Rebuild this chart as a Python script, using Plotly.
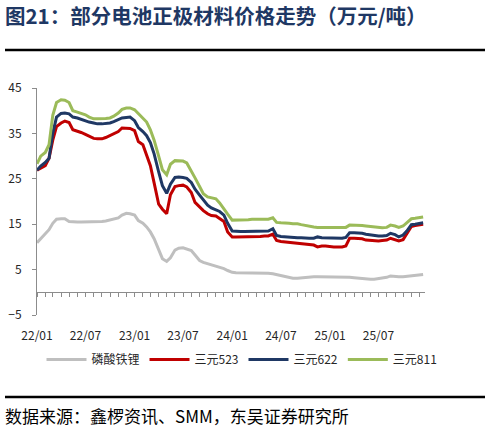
import pandas as pd
import plotly.graph_objects as go

# semi-monthly dates, 2022-01 .. 2025-12
dates = pd.date_range("2022-01-01", "2025-12-15", freq="SMS")

lfp = [
    10.9, 11.8, 13.0, 13.8, 15.2, 16.1, 16.2, 16.2, 15.6, 15.5, 15.5, 15.5,
    15.5, 15.5, 15.5, 15.6, 15.6, 15.7, 15.9, 16.1, 16.4, 17.0, 17.4, 17.3,
    17.0, 15.8, 15.2, 14.4, 13.3, 11.8, 9.3, 7.4, 6.8, 7.6, 9.3, 9.7,
    9.8, 9.6, 9.2, 8.2, 7.0, 6.6, 6.3, 6.0, 5.8, 5.5, 5.2, 4.8,
    4.4, 4.3, 4.3, 4.3, 4.3, 4.3, 4.3, 4.3, 4.2, 4.2, 4.1, 3.9,
    3.7, 3.5, 3.3, 3.1, 3.1, 3.2, 3.3, 3.3, 3.4, 3.4, 3.4, 3.4,
    3.4, 3.4, 3.4, 3.4, 3.3, 3.3, 3.2, 3.1, 3.0, 3.0, 2.9, 2.9,
    3.0, 3.1, 3.3, 3.6, 3.4, 3.4, 3.4, 3.5, 3.6, 3.8, 3.8, 3.9,
]
ncm523 = [
    26.9, 27.3, 27.9, 29.5, 33.5, 36.5, 37.3, 37.7, 37.4, 35.8, 35.5, 35.2,
    34.8, 34.4, 33.9, 33.8, 33.8, 34.1, 34.6, 35.0, 35.4, 36.2, 36.2, 36.1,
    35.6, 33.2, 32.5, 30.0, 27.9, 24.1, 19.4, 18.3, 17.3, 21.5, 23.3, 23.5,
    23.6, 23.2, 22.0, 19.8, 18.8, 18.0, 17.3, 16.9, 16.8, 16.3, 15.6, 13.3,
    12.2, 12.2, 12.2, 12.2, 12.2, 12.3, 12.3, 12.3, 12.4, 12.4, 12.8, 11.4,
    11.2, 11.1, 11.0, 10.9, 10.8, 10.7, 10.6, 10.5, 10.4, 10.0, 10.2, 10.2,
    10.0, 10.0, 10.0, 10.0, 10.2, 11.9, 11.9, 11.9, 11.8, 11.5, 11.4, 11.3,
    11.3, 11.4, 11.5, 11.9, 11.6, 11.3, 11.6, 12.8, 14.5, 14.7, 14.8, 15.0,
]
ncm622 = [
    26.9, 27.8, 28.6, 29.5, 35.0, 38.6, 39.4, 39.5, 39.3, 38.6, 38.4, 38.1,
    37.8, 37.5, 37.3, 37.1, 37.1, 37.2, 37.3, 37.6, 38.0, 38.4, 38.5, 38.6,
    37.8, 36.3, 35.4, 34.5, 33.0, 30.5, 26.5, 23.5, 21.8, 23.8, 25.3, 25.4,
    25.3, 25.1, 24.2, 22.7, 21.4, 20.4, 19.2, 18.6, 18.2, 17.8, 17.0, 15.2,
    13.5, 13.4, 13.4, 13.4, 13.4, 13.4, 13.5, 13.5, 13.5, 13.5, 14.0, 12.5,
    12.3, 12.2, 12.1, 12.0, 12.0, 12.0, 11.9, 11.9, 11.9, 12.2, 12.0, 12.0,
    11.9, 11.9, 11.9, 11.9, 12.1, 13.1, 13.1, 13.1, 13.0, 12.8, 12.6, 12.5,
    12.4, 12.4, 12.5, 13.0, 12.7, 12.2, 12.6, 13.5, 14.9, 15.0, 15.1, 15.3,
]
ncm811 = [
    28.3, 30.0, 30.8, 32.5, 39.0, 41.8, 42.4, 42.3, 41.8, 40.0, 39.7, 39.4,
    39.1, 38.6, 38.2, 38.2, 38.2, 38.3, 38.4, 38.8, 39.5, 40.3, 40.6, 40.6,
    40.2, 39.3, 38.4, 37.5, 35.8, 33.5, 30.0, 27.0, 25.9, 28.2, 29.0, 29.0,
    28.9, 28.5, 26.8, 25.2, 23.3, 21.7, 21.0, 20.8, 20.6, 19.7, 18.3, 17.2,
    15.9, 15.9, 15.9, 16.0, 16.0, 16.1, 16.1, 16.1, 16.1, 16.1, 16.4, 15.4,
    15.3, 15.3, 15.2, 15.1, 15.1, 14.9, 14.7, 14.5, 14.4, 14.3, 14.3, 14.2,
    14.2, 14.2, 14.2, 14.2, 14.3, 14.8, 14.8, 14.8, 14.7, 14.6, 14.5, 14.4,
    14.3, 14.2, 14.3, 14.8, 14.6, 14.3, 14.6, 15.3, 16.2, 16.3, 16.5, 16.6,
]

series = [
    ("磷酸铁锂", lfp, "#BFBFBF"),
    ("三元523", ncm523, "#C00000"),
    ("三元622", ncm622, "#1F3864"),
    ("三元811", ncm811, "#9BBB59"),
]

font = "Noto Sans CJK SC"
axis_grey = "#8C8C8C"

# page layout in pixels; the paper is the whole 490x437 figure
FW, FH = 490, 437
L, R, T, B = 37, 425, 88, 315      # plot area
y_lo, y_hi = -5, 45
zero_y = B - (0 - y_lo) / (y_hi - y_lo) * (B - T)
rule_left, rule_right = 5, 485
rule_rows = [50, 397]              # black rules under the title / above the source


def px(x):
    return x / FW


def py(y):
    return 1 - y / FH


fig = go.Figure()
for name, vals, color in series:
    fig.add_trace(go.Scatter(
        x=dates, y=vals, name=name, mode="lines",
        line=dict(color=color, width=3),
    ))

# the two rules, drawn on a full-page helper subplot in pixel units
rx, ry = [], []
for yy in rule_rows:
    rx += [rule_left, rule_right, None]
    ry += [yy, yy, None]
fig.add_trace(go.Scatter(
    x=rx, y=ry, xaxis="x2", yaxis="y2", mode="lines",
    line=dict(color="#000000", width=2.5),
    showlegend=False, hoverinfo="skip",
))

fig.update_layout(
    width=FW, height=FH,
    margin=dict(l=0, r=0, t=0, b=0, autoexpand=False),
    paper_bgcolor="white", plot_bgcolor="rgba(0,0,0,0)",
    font=dict(family=font, size=12, color="#262626"),
    title=dict(
        text="<b>图21：部分电池正极材料价格走势（万元/吨）</b>",
        xref="container", yref="container",
        x=5 / FW, xanchor="left", y=1 - 17 / FH, yanchor="middle",
        font=dict(family=font, size=20.5, color="#1F3864"),
    ),
    showlegend=True,
    legend=dict(
        orientation="h", xref="paper", yref="paper",
        x=px(242), xanchor="center", y=py(345), yanchor="top",
        font=dict(size=12, color="#262626"), tracegroupgap=0,
        itemwidth=40, bgcolor="rgba(0,0,0,0)",
    ),
    xaxis=dict(
        type="date", range=["2022-01-01", "2025-12-22"],
        domain=[px(L), px(R)],
        anchor="free", position=py(zero_y), automargin=False,
        showline=True, linecolor=axis_grey, linewidth=1,
        showgrid=False, zeroline=False,
        dtick="M6", tick0="2022-01-01", tickformat="%y/%m",
        ticks="outside", ticklen=4, tickcolor=axis_grey,
        minor=dict(dtick="M1", ticks="outside", ticklen=4, tickcolor=axis_grey),
        ticklabelstandoff=28,
        tickfont=dict(size=12, color="#262626"),
    ),
    yaxis=dict(
        range=[y_lo, y_hi], dtick=10, tick0=-5,
        domain=[py(B), py(T)], anchor="x", automargin=False,
        showline=True, linecolor=axis_grey, linewidth=1,
        showgrid=False, zeroline=False,
        ticks="outside", ticklen=4, tickcolor=axis_grey,
        ticklabelstandoff=8,
        tickfont=dict(size=12, color="#262626"),
    ),
    xaxis2=dict(domain=[0, 1], range=[0, FW], anchor="y2", visible=False,
                fixedrange=True),
    yaxis2=dict(domain=[0, 1], range=[FH, 0], anchor="x2", visible=False,
                fixedrange=True),
)

fig.add_annotation(
    text="数据来源：鑫椤资讯、SMM，东吴证券研究所",
    xref="paper", yref="paper", x=px(3), y=py(415),
    xanchor="left", yanchor="middle", showarrow=False,
    font=dict(family=font, size=17, color="#000000"),
)

# the page body has a default 8px margin; drop it so the figure sits at 0,0
fig.write_html(
    "out.html",
    config={"displayModeBar": False},
    post_script="document.body.style.margin='0';",
)
